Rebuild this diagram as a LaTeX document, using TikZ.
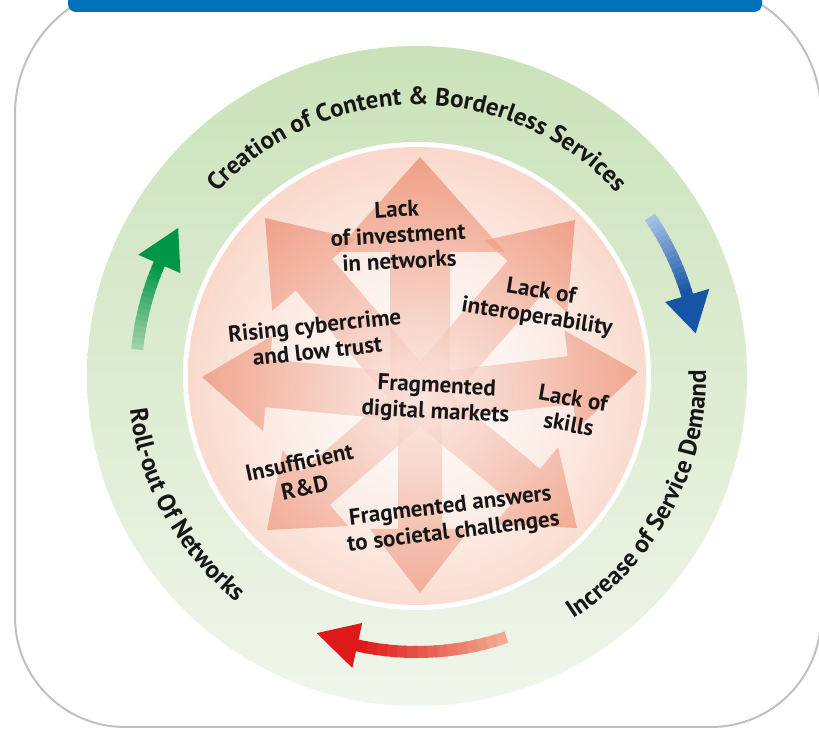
\documentclass[tikz,border=0pt]{standalone}
\usepackage{fontspec}
\setmainfont{PT Sans}
\usetikzlibrary{calc,decorations.text,fadings}
\definecolor{framec}{RGB}{192,192,192}
\definecolor{bannerc}{RGB}{0,112,186}
\definecolor{ringtop}{RGB}{202,226,185}
\definecolor{ringbot}{RGB}{240,246,235}
\definecolor{salIn}{RGB}{252,232,224}
\definecolor{salOut}{RGB}{246,186,162}
\definecolor{arrowc}{RGB}{234,125,92}
\definecolor{txtc}{RGB}{22,22,22}
\definecolor{gDark}{RGB}{0,150,72}
\definecolor{gLight}{RGB}{160,208,168}
\definecolor{bDark}{RGB}{22,85,165}
\definecolor{bLight}{RGB}{165,192,230}
\definecolor{rDark}{RGB}{222,25,25}
\definecolor{rLight}{RGB}{243,170,145}
\pgfdeclareradialshading{salshade}{\pgfpoint{0bp}{0bp}}{color(0bp)=(salIn); color(10bp)=(salIn); color(50bp)=(salOut); color(72bp)=(salOut)}
\tikzfading[name=cfade, inner color=transparent!0, outer color=transparent!100]
\newcommand\outfont{\bfseries\fontsize{25}{27}\selectfont}
% radial arrow: tip, shaft half width, head half width, head length
\newcommand\radarr[4]{%
  \coordinate (B) at ($(#1)!#4pt!(O)$);
  \fill[arrowc, fill opacity=.68] ($(O)!#2pt!90:(#1)$) -- ($(B)!#2pt!90:(#1)$) -- ($(B)!#3pt!90:(#1)$) -- (#1)
     -- ($(B)!#3pt!-90:(#1)$) -- ($(B)!#2pt!-90:(#1)$) -- ($(O)!#2pt!-90:(#1)$) -- cycle;
}
% ring arrow: tail angle, head base angle, tip angle, radius, light, dark
\newcommand\ringarr[6]{%
  \foreach \i in {0,...,14}{%
    \pgfmathsetmacro\aa{#1+(#2-#1)*\i/15}%
    \pgfmathsetmacro\ab{#1+(#2-#1)*(\i+1.3)/15}%
    \pgfmathtruncatemacro\pp{100*\i/14}%
    \draw[line width=12pt, draw=#6!\pp!#5] ($(C)+(\aa:#4)$) arc[start angle=\aa, end angle=\ab, radius=#4];%
  }%
  \pgfmathsetmacro\ro{#4+23}\pgfmathsetmacro\ri{#4-23}%
  \fill[#6] ($(C)+(#2:\ro)$) -- ($(C)+(#3:#4)$) -- ($(C)+(#2:\ri)$) -- cycle;%
}
\tikzset{
  intext/.style={font=\bfseries\fontsize{23}{26}\selectfont, align=center, text=txtc, inner sep=0pt},
  curvetext/.style={decorate, decoration={text along path, text align=center, text color=txtc, text={#1}}}
}
\begin{document}
\begin{tikzpicture}[x=1pt,y=1pt]
\useasboundingbox (0,0) rectangle (819,728);
\coordinate (C) at (417,352);
\coordinate (O) at (420,330);
% frame
\draw[framec, line width=2pt] (15,400) [rounded corners=130pt] -- (15,744) -- (821,744) -- (821,400)
   [rounded corners=110pt] -- (821,1) -- (15,1) -- cycle;
% banner
\fill[bannerc, rounded corners=8pt] (68,716) rectangle (762,745);
% rings
\shade[top color=ringtop, bottom color=ringbot] (C) circle (330);
\fill[white] (C) circle (234);
\shade[shading=salshade] (C) circle (229);
% radial arrows
\begin{scope}
\clip (C) circle (229);
\coordinate (tU) at (420,571);
\coordinate (tUL) at (265,510);
\coordinate (tUR) at (575,508);
\coordinate (tL) at (202,351);
\coordinate (tR) at (638,356);
\coordinate (tDL) at (267,198);
\coordinate (tD) at (420,135);
\coordinate (tDR) at (577,200);
\radarr{tU}{30}{85}{95}
\radarr{tUL}{24}{55}{75}
\radarr{tUR}{24}{55}{75}
\radarr{tL}{24}{48}{66}
\radarr{tR}{24}{50}{68}
\radarr{tDL}{22}{50}{64}
\radarr{tD}{22}{50}{64}
\radarr{tDR}{22}{50}{66}
\fill[white, fill opacity=.8, path fading=cfade] (O) circle (260);
\end{scope}
% inner texts
\node[intext, rotate=3] (t1) at (398,493) {Lack\\of investment\\in networks};
\node[intext, rotate=-9] (t2) at (539,423) {Lack of\\interoperability};
\node[intext, rotate=6] (t3) at (316,390) {Rising cybercrime\\and low trust};
\node[intext, rotate=-3] (t4) at (436,328) {Fragmented\\digital markets};
\node[intext, rotate=-10] (t5) at (571,317) {Lack of\\skills};
\node[intext, rotate=12] (t6) at (302,253) {Insufficient\\R\&D};
\node[intext, rotate=7] (t7) at (452,208) {Fragmented answers\\to societal challenges};
% curved texts
\path[curvetext={|\outfont|Creation of Content {\&} Borderless Services}] ($(C)+(175:271)$) arc[start angle=175, end angle=5, radius=271];
\path[curvetext={|\outfont|Increase of Service Demand}] ($(C)+(-96:289)$) arc[start angle=-96, end angle=40, radius=289];
\path[curvetext={|\outfont|Roll-out Of Networks}] ($(C)+(147:289)$) arc[start angle=147, end angle=271, radius=289];
% ring arrows
\ringarr{174.6}{156.5}{148.2}{281}{gLight}{gDark}
\ringarr{34.3}{16.6}{8.7}{282}{bLight}{bDark}
\ringarr{-71.1}{-102.5}{-111.3}{276}{rLight}{rDark}
\end{tikzpicture}
\end{document}
